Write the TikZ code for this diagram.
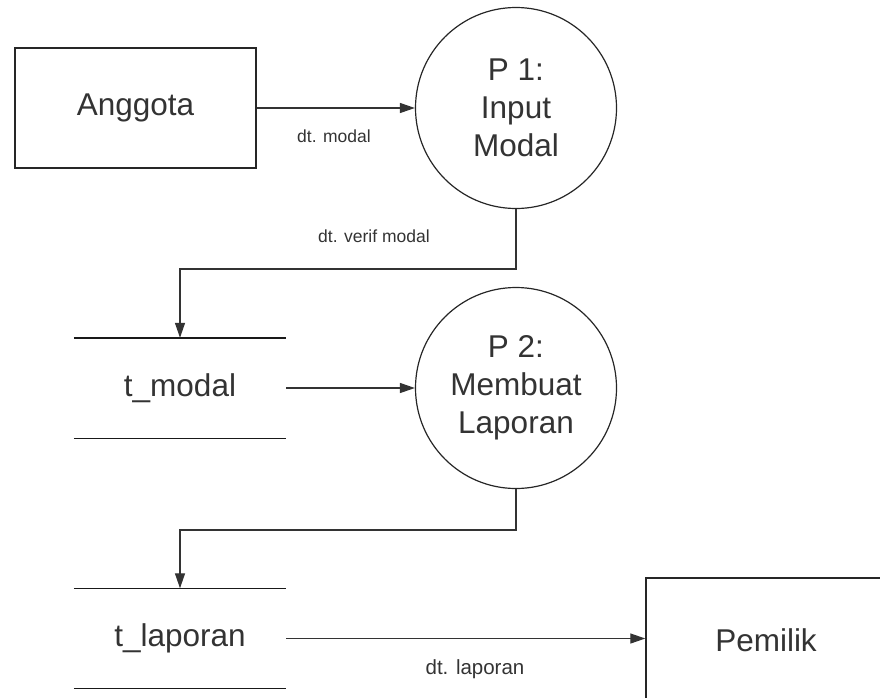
\documentclass[tikz,border=0pt]{standalone}
\usepackage{fontspec}
\setmainfont{Liberation Sans}
\usetikzlibrary{arrows.meta}
\begin{document}
\begin{tikzpicture}[x=1pt,y=-1pt,
  txt/.style={text=black!80},
  big/.style={txt,font=\fontsize{31.5}{38}\selectfont},
  small/.style={txt,font=\fontsize{17.5}{20}\selectfont,inner sep=0pt},
  entity/.style={big,draw=black!85,line width=1.4pt,minimum width=241pt,minimum height=120pt,inner sep=0pt},
  proc/.style={big,draw=black!85,line width=1.2pt,circle,minimum size=201pt,inner sep=0pt,align=center},
  store/.style={big,minimum width=212pt,minimum height=100pt,inner sep=0pt},
  storeline/.style={line width=1.4pt,black!90},
  flow/.style={line width=1.3pt,black!80,-{Triangle[length=15pt,width=10pt]}}]
\useasboundingbox (0,0) rectangle (880,697);
\clip (0,0) rectangle (880,697);
\node[entity] (anggota) at (135.5,108) {Anggota};
\node[proc] (p1) at (516,108) {P 1:\\Input\\Modal};
\node[store] (tmodal) at (180,388) {t\_modal};
\draw[storeline] (tmodal.north west) -- (tmodal.north east);
\draw[storeline] (tmodal.south west) -- (tmodal.south east);
\node[proc] (p2) at (516,388) {P 2:\\Membuat\\Laporan};
\node[store] (tlaporan) at (180,638.5) {t\_laporan};
\draw[storeline] (tlaporan.north west) -- (tlaporan.north east);
\draw[storeline] (tlaporan.south west) -- (tlaporan.south east);
\node[entity,minimum height=124pt,minimum width=240pt] (pemilik) at (766,640) {Pemilik};
\draw[flow] (anggota.east) -- (p1.west);
\node[small] (l1) at (334,136) {dt. modal};
\draw[flow] (p1.south) -- ++(0,60) -| (tmodal.north);
\node[small] (l2) at (374,236) {dt. verif modal};
\draw[flow] (tmodal.east) -- (p2.west);
\draw[flow] (p2.south) -- ++(0,41) -| (tlaporan.north);
\draw[flow] (tlaporan.east) -- (tlaporan.east -| pemilik.west);
\node[small,font=\fontsize{20.5}{24}\selectfont] (l3) at (475,669) {dt. laporan};
\end{tikzpicture}
\end{document}
